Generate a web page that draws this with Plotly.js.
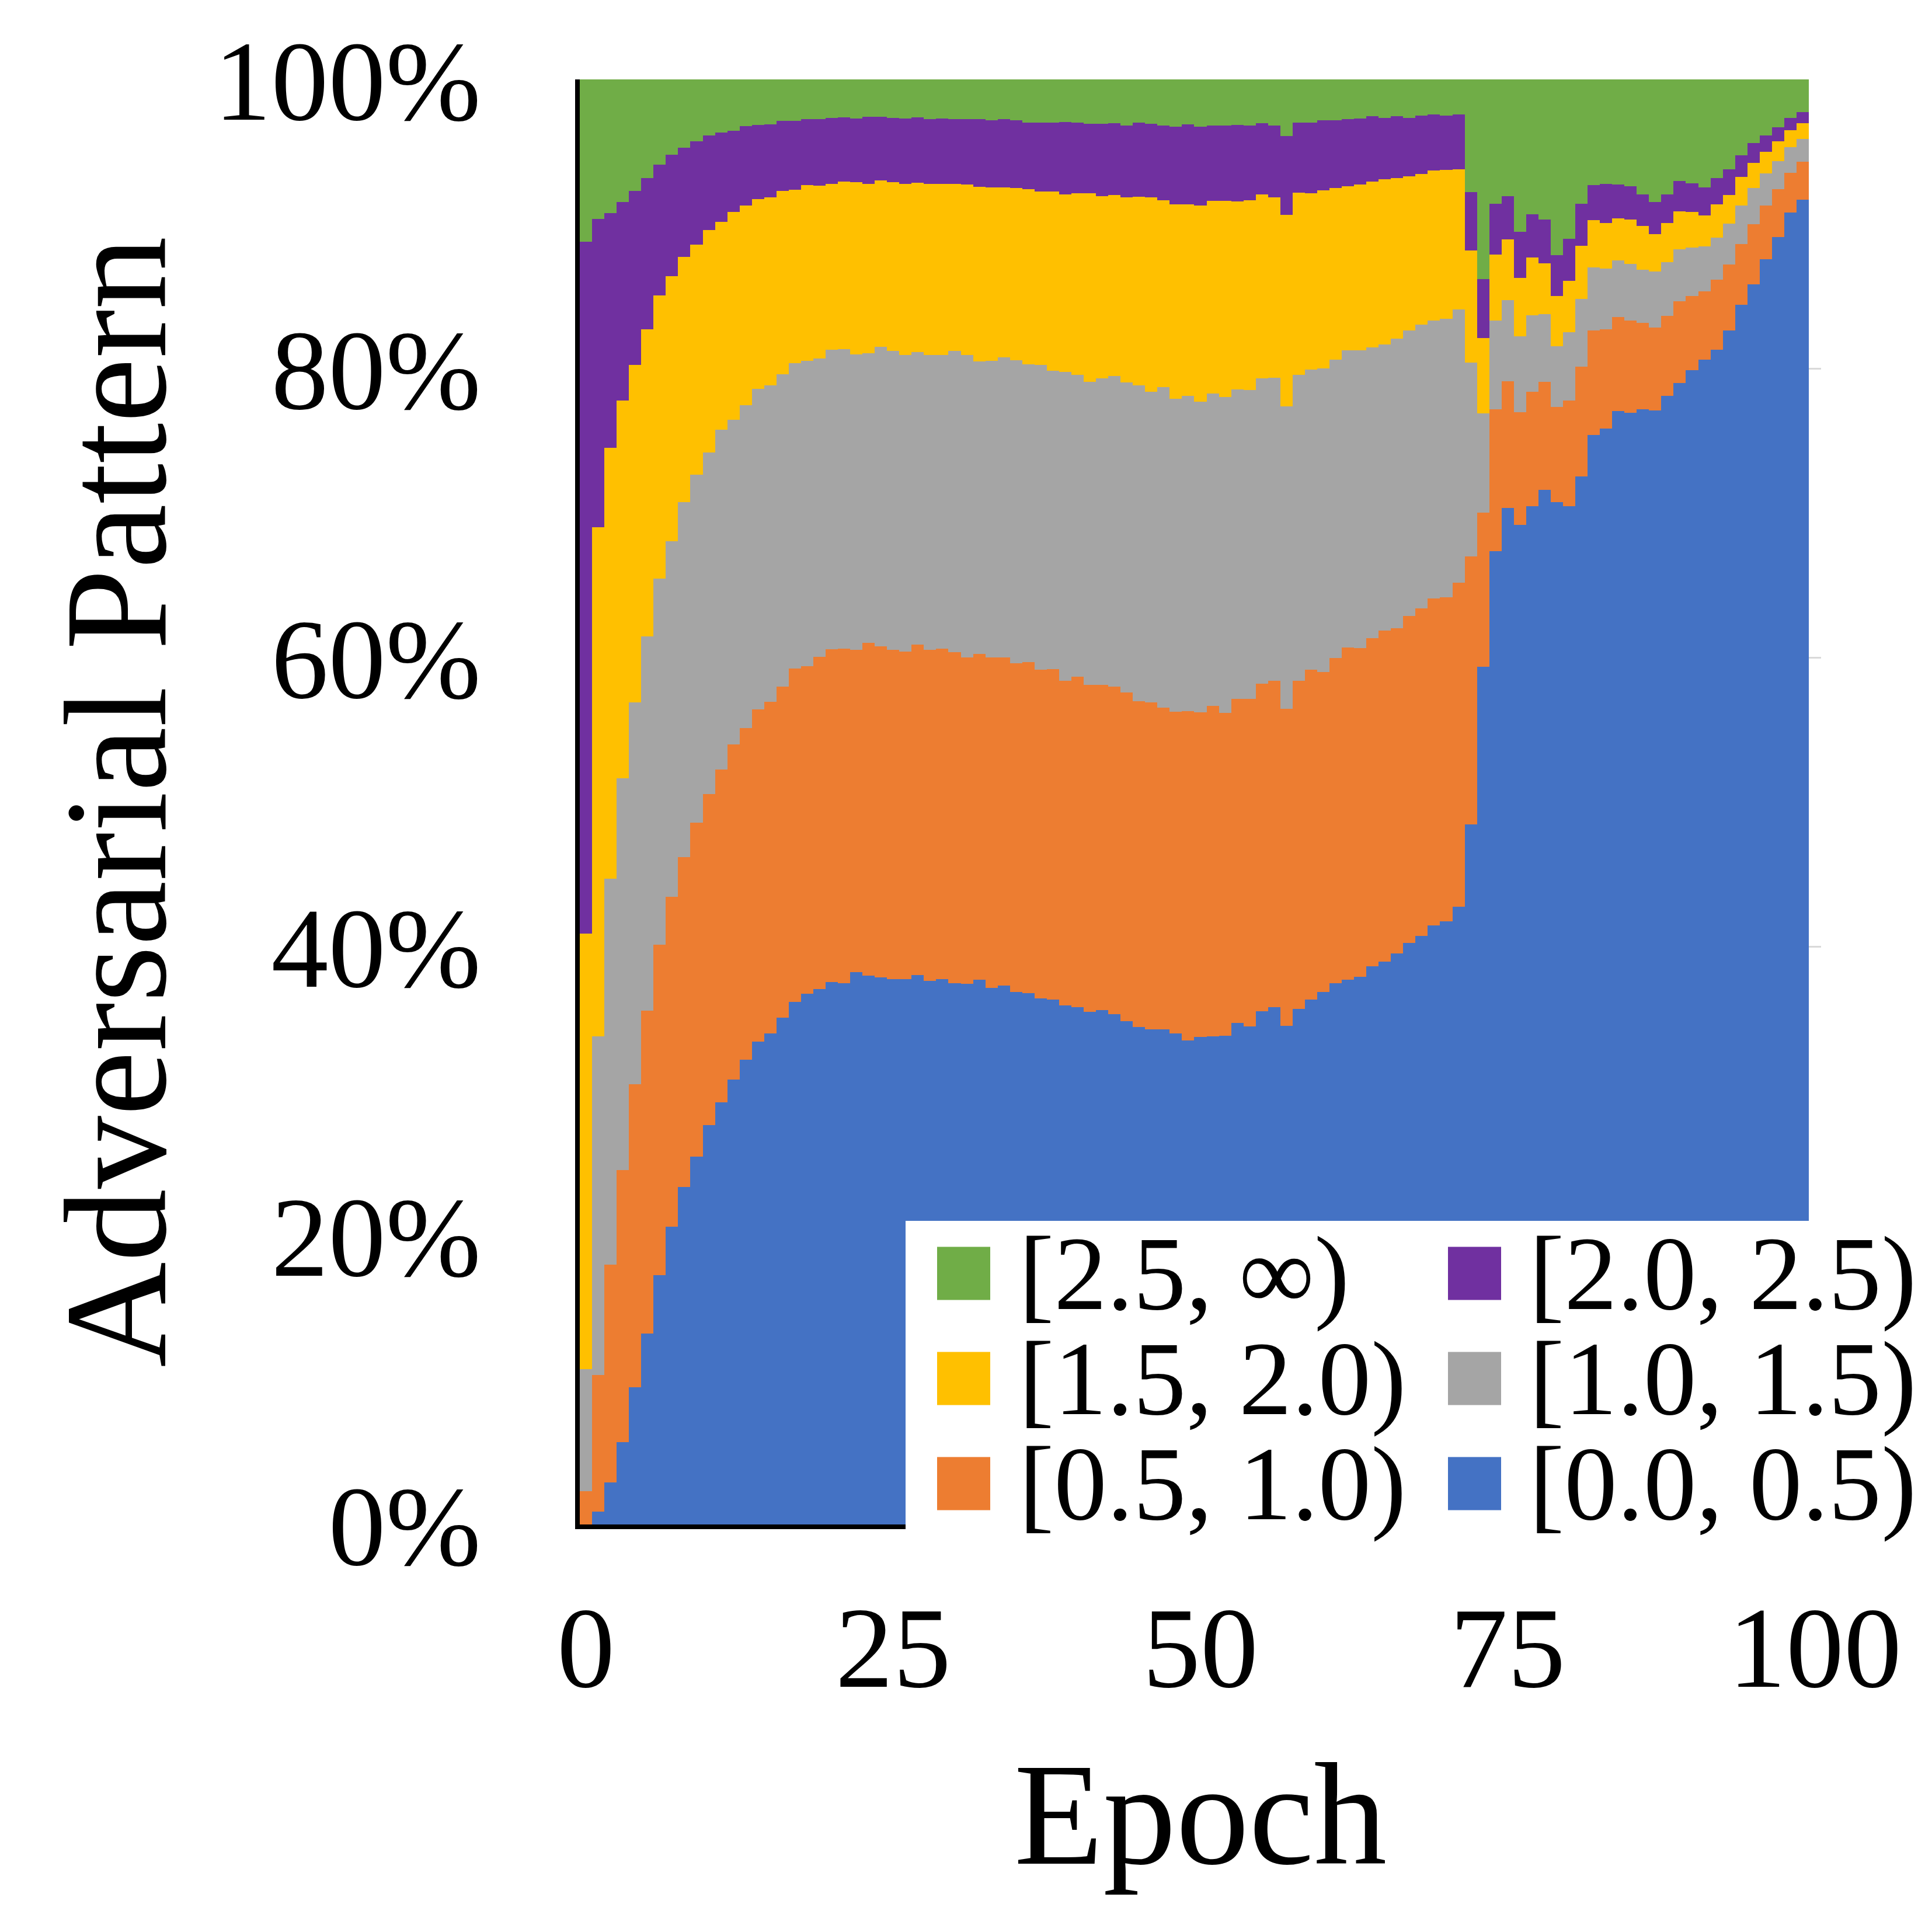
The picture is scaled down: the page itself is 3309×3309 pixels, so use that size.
<!DOCTYPE html>
<html>
<head>
<meta charset="utf-8">
<script src="https://cdn.plot.ly/plotly-3.0.1.min.js"></script>
<style>html,body{margin:0;padding:0;background:#fff;}#chart{width:3309px;height:3309px;}</style>
</head>
<body>
<div id="chart"></div>
<script>
// ---- data ----
const epochs = [
  0,1,2,3,4,5,6,7,8,9,10,11,12,13,14,15,16,17,18,19,
  20,21,22,23,24,25,26,27,28,29,30,31,32,33,34,35,36,37,38,39,
  40,41,42,43,44,45,46,47,48,49,50,51,52,53,54,55,56,57,58,59,
  60,61,62,63,64,65,66,67,68,69,70,71,72,73,74,75,76,77,78,79,
  80,81,82,83,84,85,86,87,88,89,90,91,92,93,94,95,96,97,98,99
];

const bin00_05 = [
  0, 0.89, 2.90, 5.69, 9.48, 13.23, 17.26, 20.61, 23.36, 25.44,
  27.62, 29.23, 30.77, 32.15, 33.42, 33.99, 35.07, 36.17, 36.74, 37.05,
  37.52, 37.44, 38.22, 37.99, 37.85, 37.75, 37.75, 38.03, 37.61, 37.75,
  37.47, 37.43, 37.71, 37.15, 37.29, 36.83, 36.78, 36.41, 36.32, 35.90,
  35.81, 35.48, 35.58, 35.30, 34.83, 34.42, 34.28, 34.28, 34.00, 33.49,
  33.72, 33.77, 33.81, 34.69, 34.46, 35.53, 35.81, 34.51, 35.67, 36.32,
  36.83, 37.47, 37.71, 37.89, 38.63, 38.96, 39.51, 40.25, 40.72, 41.46,
  41.74, 42.76, 48.46, 59.35, 67.36, 70.33, 69.17, 70.47, 71.58, 70.75,
  70.47, 72.51, 75.38, 75.84, 77.05, 76.91, 77.19, 77.10, 78.11, 78.99,
  79.88, 80.62, 81.31, 82.61, 84.42, 85.81, 87.57, 89.10, 90.77, 91.69
];
const bin05_10 = [
  2.30, 9.46, 15.06, 18.84, 20.99, 22.34, 22.87, 22.81, 22.81, 23.11,
  22.91, 23.01, 23.20, 22.96, 23.00, 22.94, 22.89, 23.07, 22.64, 23.00,
  23.03, 23.17, 22.29, 23.02, 22.90, 22.76, 22.66, 22.85, 22.90, 22.85,
  22.90, 22.57, 22.52, 22.85, 22.71, 22.75, 22.89, 22.75, 22.89, 22.47,
  22.84, 22.62, 22.52, 22.70, 22.76, 22.56, 22.61, 22.24, 22.24, 22.80,
  22.48, 22.89, 22.34, 22.43, 22.66, 22.66, 22.56, 21.92, 22.70, 22.84,
  22.15, 22.48, 22.98, 22.76, 22.71, 22.89, 22.52, 22.62, 22.66, 22.61,
  22.43, 22.43, 18.53, 10.66, 9.83, 8.80, 7.79, 7.92, 7.51, 6.58,
  7.32, 7.60, 7.23, 6.86, 6.49, 6.40, 5.98, 5.74, 5.52, 5.66,
  5.14, 4.72, 4.82, 4.59, 4.17, 4.17, 3.71, 3.29, 2.78, 2.60
];
const bin10_15 = [
  8.45, 23.41, 26.73, 27.10, 26.42, 25.88, 25.31, 24.61, 24.57, 24.10,
  23.67, 23.53, 22.47, 22.34, 22.17, 21.90, 21.63, 21.13, 21.16, 20.63,
  20.73, 20.73, 20.46, 20.06, 20.73, 20.71, 20.53, 20.25, 20.43, 20.34,
  20.85, 20.94, 20.25, 20.52, 20.76, 20.99, 20.62, 21.09, 20.62, 21.37,
  20.90, 20.99, 21.22, 21.46, 21.45, 21.83, 21.50, 22.20, 21.64, 21.82,
  21.50, 21.59, 21.87, 21.41, 21.37, 21.13, 21.00, 20.94, 21.18, 20.76,
  21.03, 20.67, 20.58, 20.62, 20.11, 19.79, 20.02, 19.74, 19.65, 19.24,
  19.27, 18.90, 13.40, 6.86, 6.12, 5.61, 5.28, 5.29, 4.68, 4.21,
  4.73, 4.68, 4.36, 4.22, 3.94, 3.93, 3.66, 3.85, 3.71, 3.61,
  3.34, 3.11, 2.92, 2.82, 2.69, 2.50, 2.22, 1.94, 1.76, 1.57
];
const bin15_20 = [
  30.15, 35.24, 29.81, 26.16, 23.34, 21.26, 19.62, 18.34, 16.97, 15.93,
  15.36, 14.39, 14.39, 13.82, 13.11, 13.01, 12.68, 12.00, 12.16, 11.96,
  11.49, 11.57, 11.91, 11.70, 11.54, 11.68, 11.82, 11.72, 11.82, 11.82,
  11.54, 11.77, 12.09, 12.01, 11.77, 11.91, 12.10, 12.00, 12.42, 12.32,
  12.56, 13.02, 12.60, 12.56, 12.79, 13.07, 13.44, 12.93, 13.49, 13.26,
  13.58, 13.35, 13.58, 13.02, 13.16, 12.74, 12.46, 13.26, 12.61, 12.19,
  12.33, 11.86, 11.35, 11.44, 11.49, 11.44, 11.13, 10.70, 10.42, 10.38,
  10.29, 9.69, 7.78, 5.23, 4.58, 4.17, 4.03, 3.98, 3.52, 3.48,
  3.56, 3.71, 3.29, 3.15, 2.91, 3.06, 3.01, 2.59, 2.73, 2.60,
  2.45, 2.13, 2.32, 2.00, 1.99, 1.76, 1.48, 1.39, 1.16, 1.12
];
const bin20_25 = [
  47.85, 21.33, 16.23, 13.71, 12.04, 10.47, 9.06, 8.42, 7.55, 7.15,
  6.57, 6.17, 5.63, 5.50, 5.14, 5.06, 4.87, 4.77, 4.54, 4.60,
  4.57, 4.47, 4.43, 4.64, 4.39, 4.45, 4.54, 4.54, 4.49, 4.54,
  4.49, 4.54, 4.68, 4.63, 4.72, 4.68, 4.63, 4.77, 4.77, 5.01,
  4.91, 4.82, 5.01, 4.95, 4.96, 5.14, 5.10, 5.14, 5.37, 5.51,
  5.46, 5.19, 5.19, 5.29, 5.14, 4.91, 4.96, 5.46, 4.86, 4.91,
  4.82, 4.68, 4.63, 4.59, 4.50, 4.27, 4.26, 4.04, 4.03, 3.89,
  3.75, 3.80, 4.03, 4.08, 3.52, 3.01, 3.20, 3.01, 3.01, 2.83,
  2.88, 2.91, 2.41, 2.69, 2.32, 2.32, 2.22, 2.23, 1.99, 2.13,
  1.99, 1.95, 1.81, 1.76, 1.48, 1.35, 1.16, 0.98, 0.88, 0.74
];
const bin25_inf = [
  11.25, 9.67, 9.27, 8.50, 7.73, 6.82, 5.88, 5.21, 4.74, 4.27,
  3.87, 3.67, 3.54, 3.23, 3.16, 3.10, 2.86, 2.86, 2.76, 2.76,
  2.66, 2.62, 2.69, 2.59, 2.59, 2.65, 2.70, 2.61, 2.75, 2.70,
  2.75, 2.75, 2.75, 2.84, 2.75, 2.84, 2.98, 2.98, 2.98, 2.93,
  2.98, 3.07, 3.07, 3.03, 3.21, 2.98, 3.07, 3.21, 3.26, 3.12,
  3.26, 3.21, 3.21, 3.16, 3.21, 3.03, 3.21, 3.91, 2.98, 2.98,
  2.84, 2.84, 2.75, 2.70, 2.56, 2.65, 2.56, 2.65, 2.52, 2.42,
  2.52, 2.42, 7.80, 13.82, 8.59, 8.08, 10.53, 9.33, 9.70, 12.15,
  11.04, 8.59, 7.33, 7.24, 7.29, 7.38, 7.94, 8.49, 7.94, 7.01,
  7.20, 7.47, 6.82, 6.22, 5.25, 4.41, 3.86, 3.30, 2.65, 2.28
];

const seriesNames = ["[0.0, 0.5)", "[0.5, 1.0)", "[1.0, 1.5)", "[1.5, 2.0)", "[2.0, 2.5)", "[2.5, \u221E)"];
const seriesColors = ["#4472C4", "#ED7D31", "#A5A5A5", "#FFC000", "#7030A0", "#70AD47"];
const seriesValues = [bin00_05, bin05_10, bin10_15, bin15_20, bin20_25, bin25_inf];

const xTickVals = [0, 25, 50, 75, 100];
const xTickText = ["0", "25", "50", "75", "100"];
const yTickVals = [0, 20, 40, 60, 80, 100];
const yTickText = ["0%", "20%", "40%", "60%", "80%", "100%"];

// legend layout: row-major order, two columns
const legendOrder = [5, 4, 3, 2, 1, 0];

// ---- layout geometry (pixels) ----
const W = 3309, H = 3309;
const M = {l: 993, r: 190, t: 136, b: 698};
const plotW = W - M.l - M.r, plotH = H - M.t - M.b;
const px2x = p => (p - M.l) / plotW;
const px2y = p => (H - M.b - p) / plotH;

const FONT = "Liberation Serif, Times New Roman, serif";

const traces = seriesValues.map((vals, i) => ({
  type: "bar",
  x: epochs,
  y: vals,
  name: seriesNames[i],
  marker: {color: seriesColors[i], line: {width: 0}},
  hoverinfo: "skip"
}));

// custom legend (large swatches)
const shapes = [{
  type: "rect", xref: "paper", yref: "paper", layer: "above",
  x0: px2x(1551), x1: px2x(3309), y0: px2y(2091), y1: px2y(2660),
  fillcolor: "#ffffff", line: {width: 0}
}];
const annotations = [];
const colSwatchX = [1605, 2480];
const colTextX = [1744, 2618];
const rowCenterY = [2181, 2361, 2541];
const sw = 91;
legendOrder.forEach((si, k) => {
  const col = k % 2, row = Math.floor(k / 2);
  const cy = rowCenterY[row];
  shapes.push({
    type: "rect", xref: "paper", yref: "paper", layer: "above",
    x0: px2x(colSwatchX[col]), x1: px2x(colSwatchX[col] + sw),
    y0: px2y(cy + sw / 2), y1: px2y(cy - sw / 2),
    fillcolor: seriesColors[si], line: {width: 0}
  });
  annotations.push({
    xref: "paper", yref: "paper", x: px2x(colTextX[col]), y: px2y(cy + 12),
    xanchor: "left", yanchor: "middle", showarrow: false,
    height: 176, valign: "bottom", borderpad: 0,
    text: seriesNames[si], font: {family: FONT, size: 181, color: "#000"}
  });
});

const layout = {
  width: W, height: H,
  margin: M,
  paper_bgcolor: "#ffffff",
  plot_bgcolor: "#ffffff",
  barmode: "stack",
  bargap: 0,
  showlegend: false,
  font: {family: FONT, color: "#000"},
  xaxis: {
    range: [-0.5, 100.5],
    tickvals: xTickVals, ticktext: xTickText,
    tickfont: {family: FONT, size: 198, color: "#000"},
    ticks: "outside", ticklen: 32, tickcolor: "rgba(0,0,0,0)",
    showline: true, linecolor: "#000", linewidth: 8,
    showgrid: false, zeroline: false,
    automargin: false,
    title: {text: "Epoch", font: {family: FONT, size: 250, color: "#000"}, standoff: 89}
  },
  yaxis: {
    range: [0, 100],
    tickvals: yTickVals, ticktext: yTickText,
    tickfont: {family: FONT, size: 196, color: "#000"},
    ticks: "outside", ticklen: 122, tickcolor: "rgba(0,0,0,0)",
    showline: true, linecolor: "#000", linewidth: 8,
    showgrid: true, gridcolor: "#d9d9d9", gridwidth: 3,
    zeroline: false,
    automargin: false,
    title: {text: "Adversarial Pattern", font: {family: FONT, size: 250, color: "#000"}, standoff: 0}
  },
  shapes: shapes,
  annotations: annotations
};

Plotly.newPlot("chart", traces, layout, {displayModeBar: false, staticPlot: true});
</script>
</body>
</html>
